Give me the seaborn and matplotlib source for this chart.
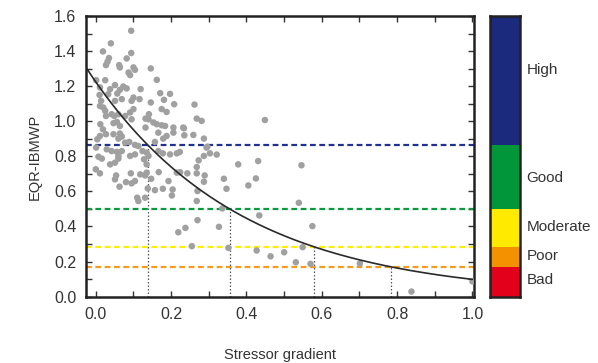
import numpy as np
import pandas as pd
import matplotlib
matplotlib.use("Agg")
import matplotlib.pyplot as plt
import matplotlib.transforms as mtransforms
from matplotlib.ticker import MultipleLocator
import seaborn as sns

# ---------------- data ----------------
stressor = [0.094, 0.040, 0.019, 0.094, 0.035, 0.031, 0.027, 0.082, 0.062, 0.064,
            0.100, 0.104, 0.087, 0.091, 0.146, 0.001, 0.025, 0.162, 0.051, 0.073,
            0.082, 0.064, 0.057, 0.011, 0.010, 0.038, 0.033, 0.119, 0.171, 0.197,
            0.100, 0.095, 0.014, 0.011, 0.020, 0.051, 0.069, 0.116, 0.146, 0.181,
            0.208, 0.262, 0.175, 0.188, 0.025, 0.042, 0.027, 0.091, 0.100, 0.049,
            0.060, 0.078, 0.095, 0.056, 0.064, 0.047, 0.141, 0.132, 0.140, 0.153,
            0.162, 0.268, 0.281, 0.012, 0.019, 0.011, 0.027, 0.175, 0.184, 0.206,
            0.232, 0.206, 0.235, 0.449, 0.047, 0.064, 0.069, 0.060, 0.132, 0.166,
            0.179, 0.157, 0.188, 0.259, 0.287, 0.294, 0.078, 0.089, 0.104, 0.113,
            0.001, 0.004, 0.029, 0.042, 0.056, 0.069, 0.060, 0.124, 0.135, 0.140,
            0.128, 0.166, 0.178, 0.197, 0.215, 0.223, 0.303, 0.321, 0.007, 0.016,
            0.038, 0.051, 0.060, 0.104, 0.091, 0.135, 0.378, 0.431, 0.000, 0.011,
            0.054, 0.051, 0.063, 0.080, 0.093, 0.095, 0.104, 0.118, 0.131, 0.135,
            0.147, 0.110, 0.113, 0.131, 0.138, 0.157, 0.167, 0.178, 0.193, 0.204,
            0.202, 0.215, 0.219, 0.238, 0.243, 0.255, 0.268, 0.270, 0.268, 0.270,
            0.289, 0.287, 0.327, 0.340, 0.347, 0.336, 0.352, 0.405, 0.425, 0.434,
            0.427, 0.464, 0.500, 0.531, 0.539, 0.546, 0.575, 0.549, 0.570, 0.701,
            0.838, 1.000, 0.273, 0.268, 0.296, 0.234, 0.224, 0.287]
eqr = [1.516, 1.444, 1.398, 1.389, 1.360, 1.339, 1.320, 1.358, 1.320, 1.307,
       1.307, 1.293, 1.278, 1.263, 1.301, 1.234, 1.234, 1.236, 1.206, 1.198,
       1.187, 1.179, 1.158, 1.193, 1.150, 1.183, 1.154, 1.183, 1.160, 1.156,
       1.135, 1.116, 1.116, 1.087, 1.078, 1.116, 1.126, 1.126, 1.107, 1.122,
       1.097, 1.095, 1.069, 1.053, 1.059, 1.040, 1.030, 1.050, 1.069, 1.030,
       1.040, 1.030, 1.011, 0.996, 0.973, 0.989, 1.040, 1.015, 1.011, 0.993,
       0.983, 1.015, 1.002, 0.983, 0.954, 0.916, 0.926, 0.977, 0.973, 0.964,
       0.964, 0.935, 0.920, 1.007, 0.926, 0.930, 0.913, 0.901, 0.964, 0.935,
       0.901, 0.882, 0.916, 0.922, 0.901, 0.850, 0.878, 0.882, 0.865, 0.859,
       0.850, 0.897, 0.840, 0.830, 0.825, 0.830, 0.802, 0.830, 0.821, 0.802,
       0.783, 0.830, 0.817, 0.811, 0.817, 0.825, 0.817, 0.810, 0.798, 0.787,
       0.754, 0.764, 0.787, 0.811, 0.802, 0.754, 0.754, 0.773, 0.726, 0.703,
       0.691, 0.669, 0.627, 0.653, 0.703, 0.646, 0.659, 0.697, 0.691, 0.707,
       0.672, 0.564, 0.545, 0.564, 0.617, 0.607, 0.710, 0.615, 0.659, 0.611,
       0.577, 0.707, 0.367, 0.392, 0.703, 0.288, 0.703, 0.602, 0.545, 0.436,
       0.691, 0.655, 0.398, 0.672, 0.615, 0.503, 0.278, 0.634, 0.674, 0.463,
       0.263, 0.230, 0.253, 0.196, 0.535, 0.749, 0.402, 0.282, 0.187, 0.189,
       0.029, 0.087, 0.777, 0.739, 0.855, 0.960, 0.709, 0.802]

# exponential fit shown in the figure: EQR = a * exp(-b * stressor)
fit_a = 1.224
fit_b = 2.52

# class boundaries (EQR) and classes
class_names = ["Bad", "Poor", "Moderate", "Good", "High"]
class_bounds = [0.0, 0.17, 0.285, 0.50, 0.865, 1.6]
class_colors = ["#e3001b", "#f39200", "#ffea00", "#009639", "#1b2a7c"]
class_label_y = [0.097, 0.236, 0.40, 0.68, 1.29]

line_thresholds = [0.865, 0.50, 0.285, 0.17]
line_colors = ["#1f3290", "#0a9a3c", "#ffee00", "#f59a1c"]

x_ticks = [0.0, 0.2, 0.4, 0.6, 0.8, 1.0]
y_ticks = [0.0, 0.2, 0.4, 0.6, 0.8, 1.0, 1.2, 1.4, 1.6]

# ---------------- styling ----------------
sns.set_style("ticks")
plt.rcParams["font.family"] = ["Liberation Sans", "DejaVu Sans"]
text_color = "#333333"

fig = plt.figure(figsize=(5.98, 3.63), dpi=100)
ax = fig.add_axes([86 / 598, 1 - 297 / 363, 388 / 598, 281 / 363])
cax = fig.add_axes([490 / 598, 1 - 297 / 363, 30 / 598, 281 / 363])

df = pd.DataFrame({"stressor": stressor, "eqr": eqr})
xmin, xmax = -0.026, 1.004

# horizontal class-boundary lines
for t, c in zip(line_thresholds, line_colors):
    ax.axhline(t, color=c, lw=1.6, dashes=(2.6, 1.6), zorder=1)

# fitted curve
xc = np.linspace(xmin, 1.0, 300)
curve = pd.DataFrame({"x": xc, "y": fit_a * np.exp(-fit_b * xc)})
sns.lineplot(data=curve, x="x", y="y", ax=ax, color="#2a2a2a", lw=1.2, zorder=4)

# vertical dotted drop lines where the curve crosses the boundaries
for t in line_thresholds:
    xt = np.log(fit_a / t) / fit_b
    ax.plot([xt, xt], [0, t], color="#555555", lw=0.9, ls=(0, (1.2, 1.6)), zorder=2)

# scatter
sns.scatterplot(data=df, x="stressor", y="eqr", ax=ax, color="#a0a0a0",
                s=22, edgecolor="none", linewidth=0, zorder=3)

ax.set_xlim(xmin, xmax)
ax.set_ylim(-0.002, 1.6)
ax.set_xticks(x_ticks)
ax.set_yticks(y_ticks)
ax.set_xticklabels([f"{v:.1f}" for v in x_ticks])
ax.set_yticklabels([f"{v:.1f}" for v in y_ticks])
ax.xaxis.set_minor_locator(MultipleLocator(0.1))
ax.yaxis.set_minor_locator(MultipleLocator(0.1))
ax.tick_params(which="both", direction="in", top=True, right=True, length=4,
               width=1.0, color="#333333")
ax.tick_params(which="major", labelsize=11.5, labelcolor=text_color, pad=7)
for sp in ax.spines.values():
    sp.set_color("#222222")
    sp.set_linewidth(1.8)

ax.set_xlabel("Stressor gradient", fontsize=10.5, color=text_color, labelpad=19)
ax.set_ylabel("EQR-IBMWP", fontsize=10.5, color=text_color, labelpad=9)

# class colour bar
for lo, hi, c in zip(class_bounds[:-1], class_bounds[1:], class_colors):
    cax.axhspan(lo, hi, color=c, lw=0)
cax.set_ylim(0, 1.6)
cax.set_xlim(0, 1)
cax.set_xticks([])
cax.set_yticks([])
for sp in cax.spines.values():
    sp.set_color("#222222")
    sp.set_linewidth(1.8)
trans = mtransforms.blended_transform_factory(cax.transAxes, cax.transData)
for name, yl in zip(class_names, class_label_y):
    cax.text(1.22, yl, name, transform=trans, fontsize=11, color=text_color,
             va="center", ha="left")

fig.savefig("out.png", dpi=100)
